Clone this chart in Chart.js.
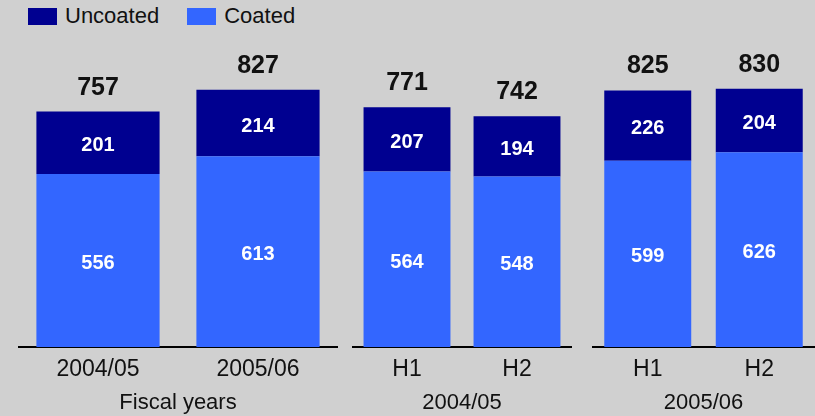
<!DOCTYPE html>
<html>
<head>
<meta charset="utf-8">
<script src="https://cdn.jsdelivr.net/npm/chart.js@4/dist/chart.umd.min.js"></script>
<style>
  html, body { margin: 0; padding: 0; background: #d0d0d0; }
  #wrap { position: relative; width: 815px; height: 416px; overflow: hidden; background: #d0d0d0; }
  canvas { position: absolute; top: 0; }
  #legend { position: absolute; left: 28px; top: 3px; display: flex; align-items: center;
            font-family: "Liberation Sans", Arial, sans-serif; font-size: 22px; color: #111; }
  #legend .item { display: flex; align-items: center; margin-right: 28px; }
  #legend .box { width: 29px; height: 17px; margin-right: 8px; }
</style>
</head>
<body>
<div id="wrap">
  <div id="legend"></div>
  <canvas id="c1" width="320" height="416" style="left:18px"></canvas>
  <canvas id="c2" width="220" height="416" style="left:352px"></canvas>
  <canvas id="c3" width="223" height="416" style="left:592px"></canvas>
</div>
<script>
// Series names and colours
const seriesNames = ['Uncoated', 'Coated'];
const seriesColors = ['#000090', '#3366ff'];

// Category labels per panel
const fiscalYearLabels = ['2004/05', '2005/06'];
const halfYearLabels = ['H1', 'H2'];
const panelTitles = ['Fiscal years', '2004/05', '2005/06'];

// Values (coated at the bottom, uncoated stacked on top)
const uncoatedFiscal = [201, 214];
const coatedFiscal = [556, 613];
const uncoated0405 = [207, 194];
const coated0405 = [564, 548];
const uncoated0506 = [226, 204];
const coated0506 = [599, 626];

const FONT = '"Liberation Sans", Arial, sans-serif';

// Legend
const legendEl = document.getElementById('legend');
seriesNames.forEach((name, i) => {
  const item = document.createElement('div');
  item.className = 'item';
  const box = document.createElement('div');
  box.className = 'box';
  box.style.background = seriesColors[i];
  const txt = document.createElement('span');
  txt.textContent = name;
  item.appendChild(box);
  item.appendChild(txt);
  legendEl.appendChild(item);
});

// Draws segment values inside the bars and totals above each stack
const valueLabels = {
  id: 'valueLabels',
  afterDatasetsDraw(chart) {
    const ctx = chart.ctx;
    const n = chart.data.labels.length;
    ctx.save();
    ctx.textAlign = 'center';
    chart.data.datasets.forEach((ds, di) => {
      const meta = chart.getDatasetMeta(di);
      meta.data.forEach((bar, i) => {
        ctx.fillStyle = '#ffffff';
        ctx.font = 'bold 20px ' + FONT;
        ctx.textBaseline = 'middle';
        ctx.fillText(String(ds.data[i]), bar.x, (bar.y + bar.base) / 2 + 3);
      });
    });
    const topMeta = chart.getDatasetMeta(chart.data.datasets.length - 1);
    for (let i = 0; i < n; i++) {
      const total = chart.data.datasets.reduce((s, ds) => s + ds.data[i], 0);
      const bar = topMeta.data[i];
      ctx.fillStyle = '#111111';
      ctx.font = 'bold 25px ' + FONT;
      ctx.textBaseline = 'alphabetic';
      ctx.fillText(String(total), bar.x, bar.y - 17);
    }
    ctx.restore();
  }
};

function makePanel(id, labels, uncoated, coated, title, barPct) {
  new Chart(document.getElementById(id), {
    type: 'bar',
    data: {
      labels: labels,
      datasets: [
        { label: seriesNames[1], data: coated, backgroundColor: seriesColors[1],
          barPercentage: barPct, categoryPercentage: 1 },
        { label: seriesNames[0], data: uncoated, backgroundColor: seriesColors[0],
          barPercentage: barPct, categoryPercentage: 1 }
      ]
    },
    options: {
      responsive: false,
      animation: false,
      devicePixelRatio: 1,
      layout: { padding: { top: 36, left: 0, right: 0, bottom: 0 } },
      plugins: { legend: { display: false }, tooltip: { enabled: false } },
      scales: {
        x: {
          stacked: true,
          grid: { display: false, drawTicks: false },
          border: { display: true, color: '#000000', width: 2 },
          ticks: { color: '#111111', font: { family: FONT, size: 23 }, padding: 9 },
          title: { display: true, text: title, color: '#111111',
                   font: { family: FONT, size: 22 }, padding: { top: 0, bottom: 0 } },
          afterFit(scale) { scale.height = 69; }
        },
        y: {
          stacked: true,
          display: false,
          min: 0,
          max: 1000
        }
      }
    },
    plugins: [valueLabels]
  });
}

makePanel('c1', fiscalYearLabels, uncoatedFiscal, coatedFiscal, panelTitles[0], 0.77);
makePanel('c2', halfYearLabels, uncoated0405, coated0405, panelTitles[1], 0.79);
makePanel('c3', halfYearLabels, uncoated0506, coated0506, panelTitles[2], 0.78);
</script>
</body>
</html>
